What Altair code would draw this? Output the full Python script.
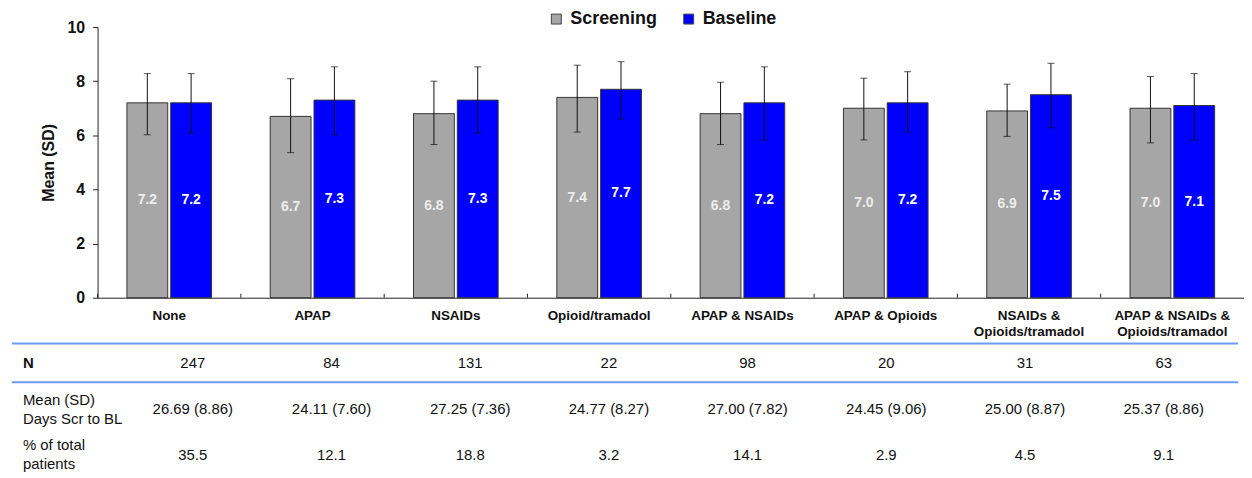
import altair as alt
import pandas as pd

# ---------------- data ----------------
categories = [
    "None", "APAP", "NSAIDs", "Opioid/tramadol", "APAP & NSAIDs",
    "APAP & Opioids", "NSAIDs &|Opioids/tramadol", "APAP & NSAIDs &|Opioids/tramadol",
]
series = ["Screening", "Baseline"]
series_colors = ["#a6a6a6", "#0000ff"]

screening_mean = [7.2, 6.7, 6.8, 7.4, 6.8, 7.0, 6.9, 7.0]
baseline_mean = [7.2, 7.3, 7.3, 7.7, 7.2, 7.2, 7.5, 7.1]
screening_low = [6.02, 5.36, 5.66, 6.12, 5.66, 5.83, 5.96, 5.72]
screening_high = [8.28, 8.09, 8.00, 8.59, 7.96, 8.11, 7.89, 8.17]
baseline_low = [6.09, 6.02, 6.09, 6.60, 5.83, 6.12, 6.28, 5.83]
baseline_high = [8.28, 8.53, 8.53, 8.72, 8.53, 8.35, 8.66, 8.28]

row_keys = ["N", "Days", "Pct"]
row_labels = ["N", "Mean (SD)\nDays Scr to BL", "% of total\npatients"]
row_bold = [True, False, False]
n_values = ["247", "84", "131", "22", "98", "20", "31", "63"]
days_values = ["26.69 (8.86)", "24.11 (7.60)", "27.25 (7.36)", "24.77 (8.27)",
               "27.00 (7.82)", "24.45 (9.06)", "25.00 (8.87)", "25.37 (8.86)"]
pct_values = ["35.5", "12.1", "18.8", "3.2", "14.1", "2.9", "4.5", "9.1"]

# ---------------- tables ----------------
rows = []
for i, c in enumerate(categories):
    rows.append(dict(cat=c, series="Screening", mean=screening_mean[i],
                     low=screening_low[i], high=screening_high[i]))
    rows.append(dict(cat=c, series="Baseline", mean=baseline_mean[i],
                     low=baseline_low[i], high=baseline_high[i]))
df_bars = pd.DataFrame(rows)
df_bars["label"] = df_bars["mean"].map(lambda v: f"{v:.1f}")

trows = []
for i, c in enumerate(categories):
    trows.append(dict(col=c, row="N", text=n_values[i]))
    trows.append(dict(col=c, row="Days", text=days_values[i]))
    trows.append(dict(col=c, row="Pct", text=pct_values[i]))
df_table = pd.DataFrame(trows)
df_rowlab = pd.DataFrame(dict(row=row_keys, text=row_labels, bold=row_bold))
df_cats = pd.DataFrame(dict(cat=categories))
df_one = pd.DataFrame(dict(k=[0]))

W, H = 1152, 272
FONT = "Liberation Sans"
DARK = "#222222"

# ---------------- bar chart ----------------
xscale = alt.Scale(domain=categories, paddingInner=0, paddingOuter=0)
x_enc = alt.X(
    "cat:N", sort=categories, scale=xscale, title=None,
    axis=alt.Axis(labelExpr="split(datum.label, '|')", labelAngle=0, ticks=False,
                  labelPadding=11, labelFontSize=13.5, labelFontWeight="bold",
                  labelColor="#111111", labelLineHeight=16, labelLimit=300,
                  domainColor=DARK, domainWidth=1),
)
xoff = alt.XOffset("series:N", sort=series,
                   scale=alt.Scale(domain=series, paddingInner=0.068, paddingOuter=0.67))
yscale = alt.Scale(domain=[0, 10], nice=False)
yaxis = alt.Axis(values=[0, 2, 4, 6, 8, 10], grid=False, tickSize=5, tickColor=DARK,
                 domainColor=DARK, labelFontSize=16, labelFontWeight="bold",
                 labelColor="#111111", labelPadding=8, titleFontSize=16,
                 titleFontWeight="bold", titleColor="#111111", titlePadding=10)

base = alt.Chart(df_bars)

bars = base.mark_bar(stroke="#333333", strokeWidth=1).encode(
    x=x_enc, xOffset=xoff,
    y=alt.Y("mean:Q", scale=yscale, axis=yaxis, title="Mean (SD)"),
    color=alt.Color(
        "series:N", sort=series,
        scale=alt.Scale(domain=series, range=series_colors),
        legend=alt.Legend(title=None, orient="none", legendX=452, legendY=-17,
                          direction="horizontal", symbolType="square", symbolSize=100,
                          labelFontSize=18, labelFontWeight="bold", labelColor="#111111",
                          columnPadding=22, labelOffset=5, padding=0,
                          symbolStrokeColor="#444444", symbolStrokeWidth=1),
    ),
)

err_rule = base.mark_rule(color="#111111", strokeWidth=1).encode(
    x=x_enc, xOffset=xoff,
    y=alt.Y("low:Q", scale=yscale, title="Mean (SD)"), y2="high:Q",
)
cap_low = base.mark_tick(color="#111111", thickness=1, size=7).encode(
    x=x_enc, xOffset=xoff, y=alt.Y("low:Q", scale=yscale, title="Mean (SD)"),
)
cap_high = base.mark_tick(color="#111111", thickness=1, size=7).encode(
    x=x_enc, xOffset=xoff, y=alt.Y("high:Q", scale=yscale, title="Mean (SD)"),
)
labels = base.transform_calculate(mid="datum.mean / 2").mark_text(
    fontSize=14, fontWeight="bold", baseline="middle", font=FONT
).encode(
    x=x_enc, xOffset=xoff,
    y=alt.Y("mid:Q", scale=yscale, title="Mean (SD)"),
    text="label:N",
    color=alt.condition(alt.datum.series == "Screening",
                        alt.value("#eeeeee"), alt.value("#ffffff")),
)
sep_ticks = alt.Chart(df_cats).mark_rule(color=DARK, strokeWidth=1).encode(
    x=alt.X("cat:N", sort=categories, scale=xscale, bandPosition=0, title=None),
    y=alt.value(H - 4), y2=alt.value(H),
)

plot = alt.layer(bars, err_rule, cap_low, cap_high, labels, sep_ticks)

# ---------------- table below ----------------
tx = alt.Scale(domain=categories, range=[26, 1141], paddingInner=0, paddingOuter=0)
ty = alt.Scale(type="point", domain=row_keys, range=[338, 430], padding=0)

table_vals = alt.Chart(df_table).mark_text(
    fontSize=15, font=FONT, color="#111111", baseline="middle", align="center"
).encode(
    x=alt.X("col:N", sort=categories, scale=tx, axis=None),
    y=alt.Y("row:N", sort=row_keys, scale=ty, axis=None),
    text="text:N",
)
rowlab_base = alt.Chart(df_rowlab)
table_rows_bold = rowlab_base.transform_filter("datum.bold").mark_text(
    fontSize=15, font=FONT, fontWeight="bold", color="#111111", baseline="middle",
    align="left", lineBreak="\n", lineHeight=18,
).encode(
    x=alt.value(-75),
    y=alt.Y("row:N", sort=row_keys, scale=ty, axis=None),
    text="text:N",
)
table_rows_reg = rowlab_base.transform_filter("!datum.bold").mark_text(
    fontSize=15, font=FONT, color="#111111", baseline="middle",
    align="left", lineBreak="\n", lineHeight=19, dy=-9.5,
).encode(
    x=alt.value(-75),
    y=alt.Y("row:N", sort=row_keys, scale=ty, axis=None),
    text="text:N",
)
line1 = alt.Chart(df_one).mark_rule(color="#6f9cf3", strokeWidth=2).encode(
    x=alt.value(-86), x2=alt.value(1146), y=alt.value(318))
line2 = alt.Chart(df_one).mark_rule(color="#6f9cf3", strokeWidth=2).encode(
    x=alt.value(-86), x2=alt.value(1146), y=alt.value(357))

table = alt.layer(table_vals, table_rows_bold, table_rows_reg, line1, line2)

chart = alt.layer(plot, table).resolve_scale(
    x="independent", y="independent"
).properties(
    width=W, height=H,
    padding={"left": 3, "top": 1, "right": 0, "bottom": 0},
).configure(
    font=FONT,
).configure_view(stroke=None)

chart.save("out.html", embed_options={"renderer": "svg", "actions": False})
